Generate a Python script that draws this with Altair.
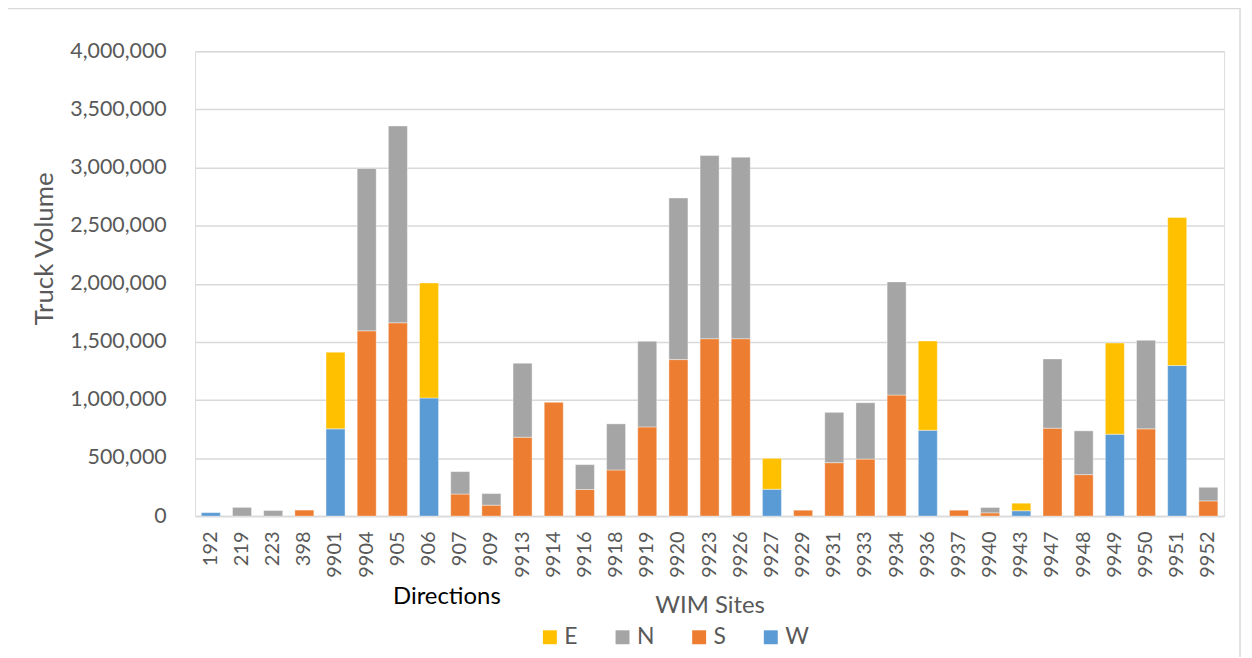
import altair as alt
import pandas as pd

sites = ["192", "219", "223", "398", "9901", "9904", "905", "906", "907", "909",
         "9913", "9914", "9916", "9918", "9919", "9920", "9923", "9926", "9927", "9929",
         "9931", "9933", "9934", "9936", "9937", "9940", "9943", "9947", "9948", "9949",
         "9950", "9951", "9952"]

W = [30000, 0, 0, 0, 751000, 0, 0, 1017000, 0, 0,
     0, 0, 0, 0, 0, 0, 0, 0, 231000, 0,
     0, 0, 0, 739000, 0, 0, 46000, 0, 0, 705000,
     0, 1296000, 0]
S = [0, 0, 0, 52000, 0, 1595000, 1664000, 0, 190000, 94000,
     679000, 979000, 229000, 397000, 768000, 1347000, 1527000, 1527000, 0, 51000,
     460000, 491000, 1042000, 0, 51000, 28000, 0, 757000, 357000, 0,
     751000, 0, 131000]
N = [0, 75000, 48000, 0, 0, 1397000, 1694000, 0, 193000, 100000,
     637000, 0, 214000, 397000, 737000, 1391000, 1576000, 1562000, 0, 0,
     433000, 485000, 974000, 0, 0, 46000, 0, 596000, 377000, 0,
     762000, 0, 117000]
E = [0, 0, 0, 0, 660000, 0, 0, 990000, 0, 0,
     0, 0, 0, 0, 0, 0, 0, 0, 266000, 0,
     0, 0, 0, 768000, 0, 0, 65000, 0, 0, 785000,
     0, 1274000, 0]

directions = ["E", "N", "S", "W"]
colors = ["#FFC000", "#A5A5A5", "#ED7D31", "#5B9BD5"]
y_ticks = [0, 500000, 1000000, 1500000, 2000000, 2500000, 3000000, 3500000, 4000000]

rows = []
for d, vals, o in [("W", W, 0), ("S", S, 1), ("N", N, 2), ("E", E, 3)]:
    for s, v in zip(sites, vals):
        if v > 0:
            rows.append({"site": s, "dir": d, "volume": v, "ord": o})
df = pd.DataFrame(rows)

FONT = "Lato"
GRAY = "#595959"

bars = alt.Chart(df).mark_bar(stroke="white", strokeWidth=0.4).encode(
    x=alt.X("site:N", sort=sites,
            scale=alt.Scale(paddingInner=0.39, paddingOuter=0.2),
            axis=alt.Axis(title="WIM Sites", labelAngle=-90, labelAlign="right",
                          labelBaseline="middle", labelPadding=15, labelFontSize=20,
                          labelColor=GRAY, ticks=False, grid=False, domainColor="#d9d9d9",
                          domainWidth=1.5, titleFontSize=24, titleColor=GRAY,
                          titleFontWeight="normal", titleY=90, titleBaseline="middle",
                          labelFont=FONT, titleFont=FONT)),
    y=alt.Y("volume:Q", stack="zero",
            scale=alt.Scale(domain=[0, 4000000], nice=False),
            axis=alt.Axis(title="Truck Volume", values=y_ticks, format=",.0f",
                          ticks=False, domain=False, labelPadding=29, labelFontSize=21.5,
                          labelColor=GRAY, gridColor="#d9d9d9", gridWidth=1.5,
                          titleFontSize=26, titleColor=GRAY, titleFontWeight="normal",
                          titleX=-151, titleY=198, titleAlign="center",
                          titleBaseline="middle", labelFont=FONT, titleFont=FONT)),
    color=alt.Color("dir:N", scale=alt.Scale(domain=directions, range=colors),
                    legend=alt.Legend(orient="none", legendX=345, legendY=577,
                                      direction="horizontal", title=None,
                                      symbolType="square", symbolSize=196,
                                      symbolStrokeWidth=0,
                                      labelFontSize=23, labelColor=GRAY, labelFont=FONT,
                                      columnPadding=33, labelOffset=3)),
    order=alt.Order("ord:Q", sort="ascending"),
)

note = alt.Chart(pd.DataFrame({"t": ["Directions"]})).mark_text(
    fontSize=24, color="black", font=FONT, align="center", baseline="middle"
).encode(text="t:N", x=alt.value(253), y=alt.value(548))

frame = alt.Chart(pd.DataFrame({"a": [0]})).mark_rect(
    fill="transparent", stroke="#d9d9d9", strokeWidth=1.5
).encode(x=alt.value(-190), x2=alt.value(1050), y=alt.value(-43), y2=alt.value(640))

chart = alt.layer(frame, bars, note).properties(
    width=1034, height=467,
    padding={"left": 188, "top": 42, "right": 20, "bottom": 140},
    autosize="none",
).configure_view(stroke=None).configure(font=FONT)

chart.save("out.html", embed_options={"renderer": "svg", "actions": False})
